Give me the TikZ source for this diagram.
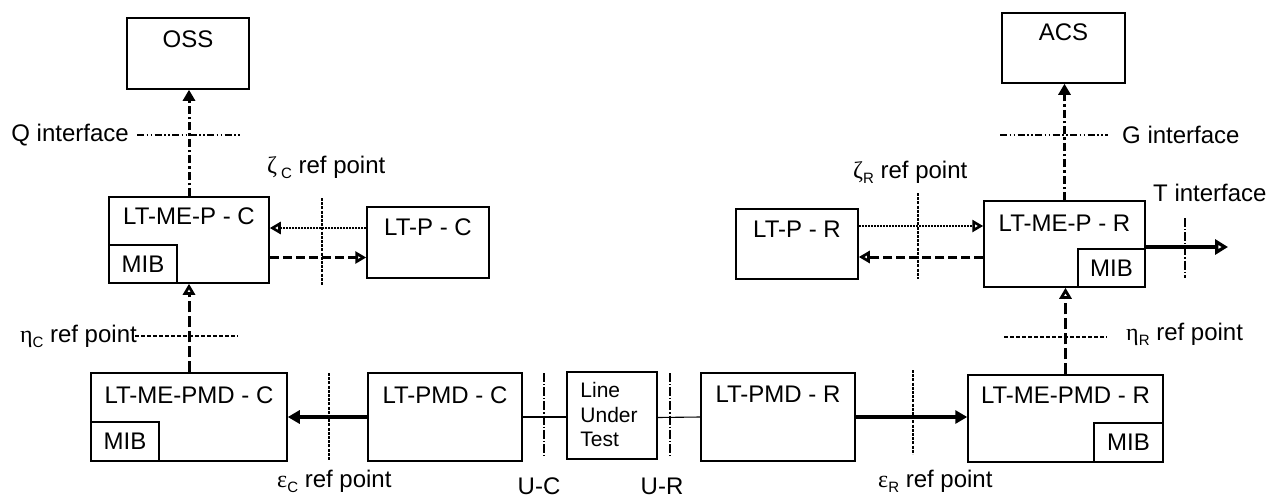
\documentclass[tikz,border=0pt]{standalone}
\usepackage{fontspec}
\setmainfont{Liberation Sans}
\newfontfamily\grk{Liberation Serif}
\usetikzlibrary{arrows.meta}
\newcommand\sbs[1]{\raisebox{-5pt}{\fontsize{15}{15}\selectfont #1}}
\begin{document}
\begin{tikzpicture}[x=1pt,y=-1pt,
  box/.style={draw, line width=1.5pt, rectangle, inner sep=0},
  txt/.style={font=\fontsize{24}{27}\selectfont, inner sep=0},
  smalltxt/.style={font=\fontsize{21}{24.5}\selectfont, inner sep=0, align=left},
  mgmt/.style={line width=3pt, dash pattern=on 8pt off 3pt on 2.5pt off 3pt, -{Triangle[length=11pt,width=12pt]}},
  iface/.style={line width=1.2pt, dash pattern=on 7pt off 2.5pt on 1.5pt off 2.5pt on 1.5pt off 2.5pt},
  refv/.style={line width=2.8pt, dash pattern=on 3pt off 1.2pt},
  refh/.style={line width=2pt, dash pattern=on 4pt off 2pt},
  dotarrow/.style={line width=2.6pt, dash pattern=on 2.2pt off 0.8pt, -{Triangle[open,length=11pt,width=12pt]}},
  dasharrow/.style={line width=3pt, dash pattern=on 9pt off 4pt, -{Triangle[open,length=11pt,width=12pt]}},
  vdash/.style={line width=3pt, dash pattern=on 11pt off 4pt, -{Triangle[open,length=11pt,width=12pt]}},
  solidarrow/.style={line width=3.2pt, -{Triangle[length=12pt,width=13pt]}},
  tarrow/.style={line width=4pt, -{Triangle[open,length=13pt,width=15pt]}},
  uline/.style={line width=2.4pt, dash pattern=on 9pt off 2pt on 1.2pt off 2pt},
  thin/.style={line width=1.1pt}
]
\useasboundingbox (0,0) rectangle (1273,498);

% main boxes
\node[box, minimum width=122pt, minimum height=71pt] (oss) at (188,53.5) {};
\node[txt] (osst) at ([yshift=-22pt]oss.north) {OSS};
\node[box, minimum width=123pt, minimum height=70pt] (acs) at (1063.5,48) {};
\node[txt] (acst) at ([yshift=-20pt]acs.north) {ACS};

\node[box, minimum width=160pt, minimum height=86pt] (mepc) at (189,240) {};
\node[txt] (mepct) at ([yshift=-20pt]mepc.north) {LT-ME-P - C};
\node[box, txt, minimum width=68pt, minimum height=38pt] (mib1) at (143,264) {MIB};

\node[box, minimum width=122pt, minimum height=71pt] (lpc) at (428,242.5) {};
\node[txt] (lpct) at ([yshift=-21pt]lpc.north) {LT-P - C};

\node[box, minimum width=122pt, minimum height=70pt] (lpr) at (797,244) {};
\node[txt] (lprt) at ([yshift=-21pt]lpr.north) {LT-P - R};

\node[box, minimum width=161pt, minimum height=86pt] (mepr) at (1064.5,244) {};
\node[txt] (meprt) at ([yshift=-23pt]mepr.north) {LT-ME-P - R};
\node[box, txt, minimum width=67pt, minimum height=38pt] (mib2) at (1111.5,268) {MIB};

\node[box, minimum width=196pt, minimum height=88pt] (mepmdc) at (189,417) {};
\node[txt] (mepmdct) at ([yshift=-23pt]mepmdc.north) {LT-ME-PMD - C};
\node[box, txt, minimum width=68pt, minimum height=39pt] (mib3) at (125,441.5) {MIB};

\node[box, minimum width=154pt, minimum height=88pt] (pmdc) at (445,417) {};
\node[txt] (pmdct) at ([yshift=-23pt]pmdc.north) {LT-PMD - C};

\node[box, minimum width=90pt, minimum height=87pt] (lut) at (612,415.5) {};
\node[smalltxt, anchor=north west] (lutt) at ([xshift=14pt,yshift=-11pt]lut.north west) {Line\\Under\\Test};

\node[box, minimum width=154pt, minimum height=88pt] (pmdr) at (778,417) {};
\node[txt] (pmdrt) at ([yshift=-22pt]pmdr.north) {LT-PMD - R};

\node[box, minimum width=195pt, minimum height=87pt] (mepmdr) at (1065.5,418.5) {};
\node[txt] (mepmdrt) at ([yshift=-21pt]mepmdr.north) {LT-ME-PMD - R};
\node[box, txt, minimum width=69pt, minimum height=39pt] (mib4) at (1128.5,442.5) {MIB};

% management connectors
\draw[mgmt] (mepc.north) -- (mepc.north |- oss.south);
\draw[mgmt] (mepr.north) -- (mepr.north |- acs.south);

% zeta C connectors
\coordinate (zc1) at ([yshift=14.5pt]lpc.west);
\coordinate (zc2) at ([yshift=-17.5pt]mepc.east);
\draw[dotarrow] (zc1) -- (zc1 -| mepc.east);
\draw[dasharrow] (zc2) -- (zc2 -| lpc.west);
% zeta R connectors
\coordinate (zr1) at ([yshift=18pt]lpr.east);
\coordinate (zr2) at ([yshift=-13pt]mepr.west);
\draw[dotarrow] (zr1) -- (zr1 -| mepr.west);
\draw[dasharrow] (zr2) -- (zr2 -| lpr.east);

% eta connectors
\draw[vdash] (mepmdc.north) -- (mepmdc.north |- mepc.south);
\draw[vdash] (mepmdr.north) -- (mepmdr.north |- mepr.south);

% epsilon connectors
\draw[solidarrow] (pmdc.west) -- (mepmdc.east);
\draw[solidarrow] (pmdr.east) -- (pmdr.east -| mepmdr.west);

% U connectors
\draw[thin] (pmdc.east) -- (pmdc.east -| lut.west);
\draw[thin] ([yshift=-2pt]lut.east) -- (pmdr.west);

% T interface
\coordinate (tend) at (1228,247);
\draw[tarrow] (tend -| mepr.east) -- (tend);

% reference lines
\draw[iface] (137,135) -- (242,135);
\draw[iface] (1000,135) -- (1108,135);
\draw[refv] (322,198) -- (322,285);
\draw[refv] (918,193) -- (918,279);
\draw[refh] (135,336) -- (238,336);
\draw[refh] (1004,337) -- (1107,337);
\draw[refv] (329,373) -- (329,460);
\draw[refv] (913,370) -- (913,454);
\draw[uline] (544,373) -- (544,458);
\draw[uline] (670,373) -- (670,458);
\draw[uline] (1185,218) -- (1185,278);

% labels
\node[txt, anchor=east] (ql) at (129,135) {Q interface};
\node[txt, anchor=west] (gl) at (1122,135) {G interface};
\node[txt, anchor=west] (tl) at (1153,193) {T interface};
\node[txt, anchor=west] (zcl) at (267,167) {{\grk ζ}\,\sbs{C} ref point};
\node[txt, anchor=west] (zrl) at (853,172) {{\grk ζ}\sbs{R} ref point};
\node[txt, anchor=east] (ecl) at (137,336) {{\grk η}\sbs{C} ref point};
\node[txt, anchor=west] (erl) at (1126,334) {{\grk η}\sbs{R} ref point};
\node[txt, anchor=west] (epcl) at (277,481) {{\grk ε}\sbs{C} ref point};
\node[txt, anchor=west] (eprl) at (878,481) {{\grk ε}\sbs{R} ref point};
\node[txt] (ucl) at (539,486) {U-C};
\node[txt] (url) at (662,486) {U-R};
\end{tikzpicture}
\end{document}
